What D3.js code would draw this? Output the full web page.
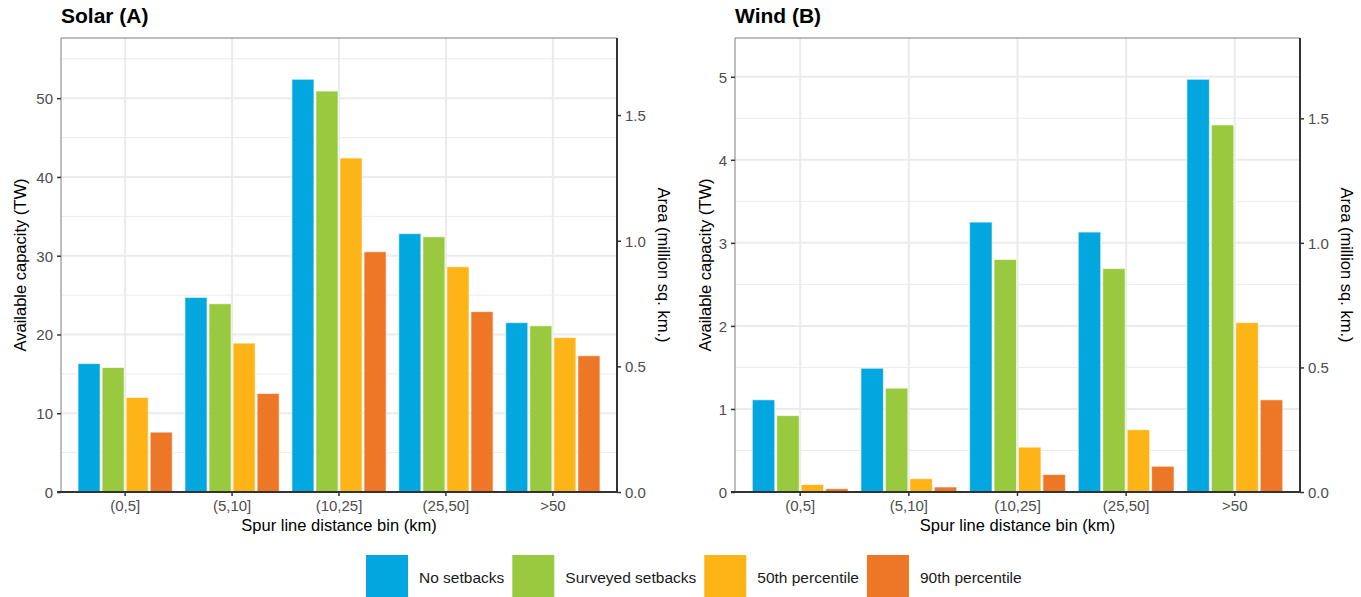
<!DOCTYPE html>
<html lang="en">
<head>
    <meta charset="utf-8">
    <title>Solar and wind capacity by spur line distance</title>
    <script src="https://d3js.org/d3.v7.min.js"></script>
    <style>
        body { margin: 0; background: #fff; }
        svg { display: block; }
        .tick text { fill: #4d4d4d; }
    </style>
</head>
<body>
<div id="chart"></div>
<script>
    // data
    const bins = ["(0,5]", "(5,10]", "(10,25]", "(25,50]", ">50"];
    const scenarios = ["No setbacks", "Surveyed setbacks", "50th percentile", "90th percentile"];
    const colors = ["#02a7df", "#99c93f", "#fdb416", "#ed7727"];

    // available capacity (TW), one array per scenario, in bin order
    const solarNoSetbacks = [16.3, 24.7, 52.4, 32.8, 21.5];
    const solarSurveyed   = [15.8, 23.9, 50.9, 32.4, 21.1];
    const solarP50        = [12.0, 18.9, 42.4, 28.6, 19.6];
    const solarP90        = [7.6, 12.5, 30.5, 22.9, 17.3];

    const windNoSetbacks = [1.11, 1.49, 3.25, 3.13, 4.97];
    const windSurveyed   = [0.92, 1.25, 2.80, 2.69, 4.42];
    const windP50        = [0.09, 0.16, 0.54, 0.75, 2.04];
    const windP90        = [0.04, 0.06, 0.21, 0.31, 1.11];

    // TW per million sq. km (secondary axis)
    const solarDensity = 31.9;
    const windDensity = 3.0;

    const font = "'Liberation Sans', Arial, sans-serif";
    const width = 1361, height = 597;
    const svg = d3.select("#chart").append("svg")
        .attr("width", width).attr("height", height)
        .attr("font-family", font);

    function toRows(series) {
        return bins.map((b, i) => ({
            bin: b,
            values: scenarios.map((s, j) => ({scenario: s, value: series[j][i]}))
        }));
    }

    function styleAxis(a) {
        a.attr("font-family", font).attr("font-size", 15);
        a.selectAll(".tick line").attr("stroke", "#333").attr("stroke-width", 1.5);
    }

    function drawPanel(p) {
        const g = svg.append("g");
        const rows = toRows(p.series);
        const maxVal = d3.max(p.series, s => d3.max(s));

        const x = d3.scaleBand().domain(bins)
            .range([p.left, p.right]).paddingInner(0.1).paddingOuter(0.15);
        const xs = d3.scaleBand().domain(scenarios).range([0, x.bandwidth()]);
        const y = d3.scaleLinear().domain([0, maxVal * 1.1]).range([p.bottom, p.top]);
        const y2 = d3.scaleLinear().domain([0, maxVal * 1.1 / p.density]).range([p.bottom, p.top]);

        // grid: minor, then major
        const majors = y.ticks(6);
        const step = majors[1] - majors[0];
        const minors = d3.range(step / 2, y.domain()[1], step);
        g.append("g").selectAll("line").data(minors).join("line")
            .attr("x1", p.left).attr("x2", p.right)
            .attr("y1", d => y(d)).attr("y2", d => y(d))
            .attr("stroke", "#ebebeb").attr("stroke-width", 1);
        g.append("g").selectAll("line").data(majors).join("line")
            .attr("x1", p.left).attr("x2", p.right)
            .attr("y1", d => y(d)).attr("y2", d => y(d))
            .attr("stroke", "#ebebeb").attr("stroke-width", 2);
        g.append("g").selectAll("line").data(bins).join("line")
            .attr("x1", d => x(d) + x.bandwidth() / 2).attr("x2", d => x(d) + x.bandwidth() / 2)
            .attr("y1", p.top).attr("y2", p.bottom)
            .attr("stroke", "#ebebeb").attr("stroke-width", 2);

        // bars
        g.append("g").selectAll("g").data(rows).join("g")
            .attr("transform", d => `translate(${x(d.bin)},0)`)
            .selectAll("rect").data(d => d.values).join("rect")
            .attr("x", d => xs(d.scenario) + 1)
            .attr("width", xs.bandwidth() - 2)
            .attr("y", d => y(d.value))
            .attr("height", d => y(0) - y(d.value))
            .attr("fill", (d, i) => colors[i])
            .attr("stroke", "#fff").attr("stroke-opacity", 0.6).attr("stroke-width", 1);

        // panel border (top, left)
        g.append("path")
            .attr("d", `M${p.left},${p.bottom}V${p.top}H${p.right}`)
            .attr("fill", "none").attr("stroke", "#7f7f7f").attr("stroke-width", 1);

        // axes
        const ax = g.append("g").attr("transform", `translate(0,${p.bottom})`)
            .call(d3.axisBottom(x).tickSizeOuter(0).tickSize(4).tickPadding(4));
        styleAxis(ax);
        ax.select(".domain").attr("stroke", "#333").attr("stroke-width", 2)
            .attr("d", `M${p.left - 4},0H${p.right}`);

        const ay = g.append("g").attr("transform", `translate(${p.left},0)`)
            .call(d3.axisLeft(y).ticks(6).tickSize(4).tickPadding(4).tickSizeOuter(0));
        styleAxis(ay);
        ay.select(".domain").remove();
        ay.selectAll(".tick text").attr("dy", "0.36em");

        const ay2 = g.append("g").attr("transform", `translate(${p.right},0)`)
            .call(d3.axisRight(y2).ticks(4).tickFormat(d3.format(".1f"))
                .tickSize(4).tickPadding(4).tickSizeOuter(0));
        styleAxis(ay2);
        ay2.select(".domain").attr("stroke", "#333").attr("stroke-width", 2)
            .attr("d", `M0,${p.top}V${p.bottom + 1}`);
        ay2.selectAll(".tick text").attr("dy", "0.36em");

        // titles
        g.append("text").attr("x", p.left).attr("y", 23)
            .attr("font-size", 21).attr("font-weight", "bold").attr("fill", "#000")
            .text(p.title);
        g.append("text")
            .attr("x", (p.left + p.right) / 2).attr("y", 531)
            .attr("text-anchor", "middle").attr("font-size", 16.5).attr("fill", "#000")
            .text("Spur line distance bin (km)");
        g.append("text")
            .attr("transform", `translate(${p.left - p.ylabOffset},${(p.top + p.bottom) / 2}) rotate(-90)`)
            .attr("text-anchor", "middle").attr("font-size", 16.5).attr("fill", "#000")
            .text("Available capacity (TW)");
        g.append("text")
            .attr("transform", `translate(${p.right + 41},${(p.top + p.bottom) / 2}) rotate(90)`)
            .attr("text-anchor", "middle").attr("font-size", 16.5).attr("fill", "#000")
            .text("Area (million sq. km.)");
    }

    drawPanel({
        title: "Solar (A)", left: 61, right: 617, top: 38, bottom: 492, ylabOffset: 35,
        series: [solarNoSetbacks, solarSurveyed, solarP50, solarP90], density: solarDensity
    });
    drawPanel({
        title: "Wind (B)", left: 735, right: 1300, top: 38, bottom: 492, ylabOffset: 24,
        series: [windNoSetbacks, windSurveyed, windP50, windP90], density: windDensity
    });

    // legend
    const legend = svg.append("g");
    let lx = 366;
    scenarios.forEach((s, i) => {
        legend.append("rect").attr("x", lx).attr("y", 555).attr("width", 42).attr("height", 44)
            .attr("fill", colors[i]);
        const t = legend.append("text").attr("x", lx + 53).attr("y", 583)
            .attr("font-size", 15.5).attr("fill", "#1a1a1a").text(s);
        lx += 53 + t.node().getComputedTextLength() + 8;
    });
</script>
</body>
</html>
